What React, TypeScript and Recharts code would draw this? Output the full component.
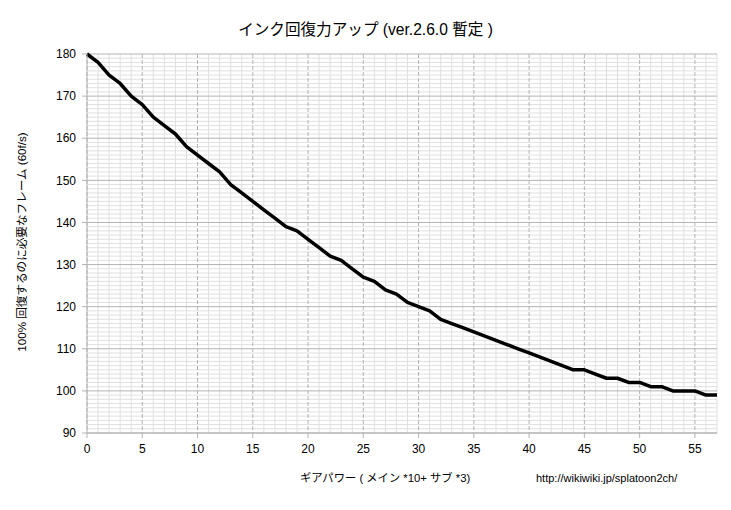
import React from "react";
import { LineChart, Line, XAxis, YAxis, CartesianGrid } from "recharts";

const gearPower = [
  0, 1, 2, 3, 4, 5, 6, 7, 8, 9, 10, 11, 12, 13, 14, 15, 16, 17, 18, 19, 20,
  21, 22, 23, 24, 25, 26, 27, 28, 29, 30, 31, 32, 33, 34, 35, 36, 37, 38, 39,
  40, 41, 42, 43, 44, 45, 46, 47, 48, 49, 50, 51, 52, 53, 54, 55, 56, 57,
];
const frames = [
  180, 178, 175, 173, 170, 168, 165, 163, 161, 158, 156, 154, 152, 149, 147,
  145, 143, 141, 139, 138, 136, 134, 132, 131, 129, 127, 126, 124, 123, 121,
  120, 119, 117, 116, 115, 114, 113, 112, 111, 110, 109, 108, 107, 106, 105,
  105, 104, 103, 103, 102, 102, 101, 101, 100, 100, 100, 99, 99,
];
const xTicks = [0, 5, 10, 15, 20, 25, 30, 35, 40, 45, 50, 55];
const yTicks = [90, 100, 110, 120, 130, 140, 150, 160, 170, 180];

const titleText = "インク回復力アップ (ver.2.6.0 暫定 )";
const xLabelText = "ギアパワー ( メイン *10+ サブ *3)";
const yLabelText = "100% 回復するのに必要なフレーム (60f/s)";
const urlText = "http://wikiwiki.jp/splatoon2ch/";

const data = gearPower.map((g, i) => ({ g, f: frames[i] }));

const X_MIN = 0;
const X_MAX = 57;
const Y_MIN = 90;
const Y_MAX = 180;

const xMinor: number[] = [];
for (let v = X_MIN; v <= X_MAX; v++) if (v % 5 !== 0) xMinor.push(v);
const yMinor: number[] = [];
for (let v = Y_MIN; v <= Y_MAX; v++) if (v % 10 !== 0) yMinor.push(v);

const font = '"Liberation Sans", Arial, "Noto Sans CJK JP", sans-serif';

const makeV = (vals: number[]) => (p: any) => {
  const s = p?.xAxis?.scale;
  if (typeof s === "function") return vals.map((v) => s(v));
  const o = p.offset;
  return vals.map((v) => o.left + ((v - X_MIN) / (X_MAX - X_MIN)) * o.width);
};
const makeH = (vals: number[]) => (p: any) => {
  const s = p?.yAxis?.scale;
  if (typeof s === "function") return vals.map((v) => s(v));
  const o = p.offset;
  return vals.map((v) => o.top + ((Y_MAX - v) / (Y_MAX - Y_MIN)) * o.height);
};

export default function App() {
  return (
    <div
      style={{
        position: "absolute",
        left: 0,
        top: 0,
        width: 731,
        height: 510,
        background: "#fff",
        fontFamily: font,
      }}
    >
      <LineChart
        width={731}
        height={510}
        data={data}
        margin={{ top: 54, right: 14, bottom: 47, left: 27 }}
      >
        <CartesianGrid
          stroke="#e0e0e0"
          strokeWidth={1}
          verticalCoordinatesGenerator={makeV(xMinor)}
          horizontalCoordinatesGenerator={makeH(yMinor)}
        />
        <CartesianGrid
          stroke="#b3b3b3"
          strokeWidth={1}
          vertical={false}
          horizontalCoordinatesGenerator={makeH(yTicks)}
        />
        <CartesianGrid
          stroke="#b3b3b3"
          strokeWidth={1}
          strokeDasharray="4 2"
          horizontal={false}
          verticalCoordinatesGenerator={makeV(xTicks)}
        />
        <XAxis
          dataKey="g"
          type="number"
          domain={[X_MIN, X_MAX]}
          ticks={xTicks}
          interval={0}
          height={30}
          tickSize={5}
          tickMargin={6}
          axisLine={{ stroke: "#b3b3b3" }}
          tickLine={{ stroke: "#b3b3b3" }}
          tick={{ fill: "#000", fontSize: 12, fontFamily: font }}
        />
        <YAxis
          type="number"
          domain={[Y_MIN, Y_MAX]}
          ticks={yTicks}
          interval={0}
          width={60}
          tickSize={5}
          tickMargin={6}
          axisLine={{ stroke: "#b3b3b3" }}
          tickLine={{ stroke: "#b3b3b3" }}
          tick={{ fill: "#000", fontSize: 12, fontFamily: font }}
        />
        <Line
          dataKey="f"
          type="linear"
          stroke="#000"
          strokeWidth={3.5}
          strokeLinejoin="round"
          dot={false}
          activeDot={false}
          isAnimationActive={false}
        />
      </LineChart>
      <div
        style={{
          position: "absolute",
          left: 0,
          width: 731,
          top: 20,
          textAlign: "center",
          fontSize: 15.6,
          lineHeight: "20px",
          color: "#000",
        }}
      >
        {titleText}
      </div>
      <div
        style={{
          position: "absolute",
          left: 300,
          top: 470,
          fontSize: 11.3,
          lineHeight: "16px",
          color: "#000",
          whiteSpace: "nowrap",
        }}
      >
        {xLabelText}
      </div>
      <div
        style={{
          position: "absolute",
          left: 536,
          top: 471,
          fontSize: 11,
          lineHeight: "14px",
          color: "#000",
          whiteSpace: "nowrap",
        }}
      >
        {urlText}
      </div>
      <div
        style={{
          position: "absolute",
          left: 22,
          top: 242,
          transform: "translate(-50%, -50%) rotate(-90deg)",
          fontSize: 11.6,
          lineHeight: "16px",
          color: "#000",
          whiteSpace: "nowrap",
        }}
      >
        {yLabelText}
      </div>
    </div>
  );
}
